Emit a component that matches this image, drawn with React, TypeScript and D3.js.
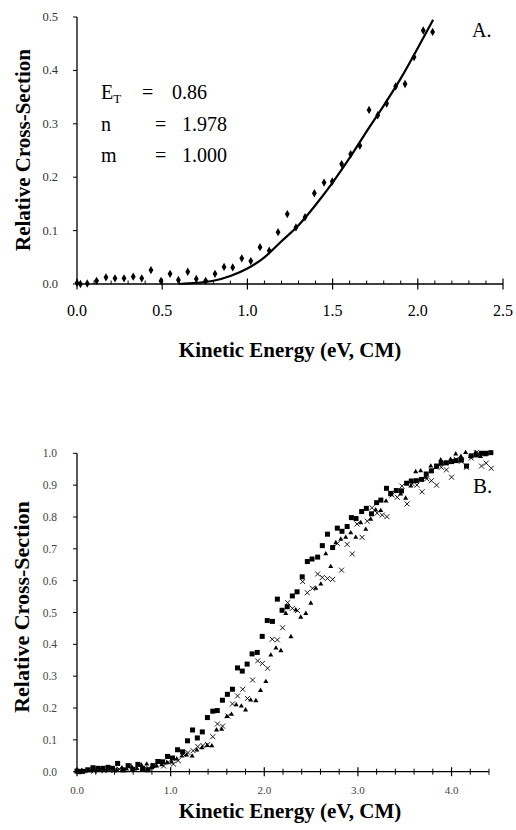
import React from 'react';
import * as d3 from 'd3';

// panel A: measured points (diamonds) and fitted curve
const pointsA: [number, number][] = [
  [0.0, 0.002], [0.02, 0.0], [0.06, 0.001], [0.115, 0.006], [0.17, 0.0125], [0.223, 0.0106],
  [0.276, 0.0106], [0.33, 0.0137], [0.38, 0.0106], [0.434, 0.026], [0.493, 0.0056], [0.546, 0.019],
  [0.595, 0.0075], [0.65, 0.023], [0.70, 0.0095], [0.755, 0.006], [0.81, 0.019], [0.863, 0.032],
  [0.914, 0.031], [0.967, 0.048], [1.02, 0.043], [1.074, 0.069], [1.128, 0.0625], [1.18, 0.097],
  [1.234, 0.131], [1.285, 0.106], [1.338, 0.125], [1.393, 0.17], [1.45, 0.19], [1.498, 0.192],
  [1.553, 0.2245], [1.606, 0.243], [1.66, 0.259], [1.714, 0.326], [1.765, 0.316], [1.817, 0.338],
  [1.87, 0.37], [1.925, 0.3746], [1.978, 0.425], [2.032, 0.4747], [2.087, 0.472],
];

const fitA: [number, number][] = [
  [0.6, 0.0], [0.7, 0.002], [0.8, 0.006], [0.9, 0.015], [1.0, 0.029], [1.1, 0.05], [1.2, 0.08],
  [1.3, 0.11], [1.4, 0.148], [1.5, 0.19], [1.6, 0.236], [1.7, 0.286], [1.8, 0.334], [1.9, 0.385],
  [2.0, 0.442], [2.09, 0.495],
];

const fitParams = [
  { name: 'E', sub: 'T', value: '0.86' },
  { name: 'n', sub: '', value: '1.978' },
  { name: 'm', sub: '', value: '1.000' },
];

// panel B: three data sets
const squaresB: [number, number][] = [
  ...pointsA,
  [2.14, 0.542], [2.19, 0.507], [2.245, 0.518], [2.3, 0.552], [2.35, 0.565], [2.405, 0.612],
  [2.46, 0.66], [2.51, 0.668], [2.57, 0.674], [2.62, 0.71], [2.675, 0.746], [2.73, 0.704],
  [2.78, 0.765], [2.83, 0.755], [2.885, 0.77], [2.93, 0.798], [2.98, 0.795], [3.04, 0.817],
  [3.09, 0.827], [3.145, 0.81], [3.2, 0.845], [3.245, 0.853], [3.305, 0.89], [3.35, 0.874],
  [3.41, 0.883], [3.465, 0.882], [3.52, 0.906], [3.57, 0.913], [3.625, 0.914], [3.68, 0.918],
  [3.73, 0.935], [3.785, 0.945], [3.84, 0.96], [3.89, 0.969], [3.945, 0.97], [4.0, 0.974],
  [4.05, 0.977], [4.105, 0.979], [4.16, 0.96], [4.21, 0.992], [4.265, 0.995], [4.32, 1.0],
  [4.37, 1.0], [4.42, 1.002],
];

const trianglesB: [number, number][] = [
  [0.0, 0.002], [0.053, 0.003], [0.106, 0.004], [0.16, 0.006], [0.21, 0.005], [0.265, 0.008],
  [0.32, 0.004], [0.37, 0.01], [0.425, 0.006], [0.48, 0.012], [0.53, 0.008], [0.585, 0.015],
  [0.64, 0.01], [0.69, 0.02], [0.745, 0.024], [0.8, 0.012], [0.85, 0.018], [0.905, 0.022],
  [0.96, 0.028], [1.01, 0.03], [1.065, 0.04], [1.12, 0.049], [1.17, 0.052], [1.23, 0.049],
  [1.28, 0.068], [1.335, 0.075], [1.39, 0.082], [1.44, 0.081], [1.49, 0.131], [1.545, 0.133],
  [1.6, 0.173], [1.65, 0.18], [1.7, 0.21], [1.755, 0.206], [1.8, 0.194], [1.855, 0.225],
  [1.91, 0.223], [1.96, 0.255], [2.017, 0.283], [2.07, 0.366], [2.125, 0.388], [2.177, 0.38],
  [2.23, 0.497], [2.285, 0.424], [2.337, 0.508], [2.39, 0.485], [2.444, 0.497], [2.497, 0.529],
  [2.55, 0.576], [2.604, 0.589], [2.657, 0.684], [2.71, 0.644], [2.764, 0.719], [2.817, 0.73],
  [2.87, 0.736], [2.923, 0.75], [2.977, 0.736], [3.03, 0.782], [3.084, 0.761], [3.137, 0.793],
  [3.19, 0.822], [3.244, 0.82], [3.3, 0.85], [3.35, 0.87], [3.4, 0.882], [3.457, 0.872],
  [3.51, 0.859], [3.565, 0.897], [3.617, 0.942], [3.67, 0.945], [3.725, 0.925], [3.778, 0.96],
  [3.83, 0.955], [3.885, 0.979], [3.94, 0.97], [3.99, 0.981], [4.045, 0.998], [4.1, 0.99],
  [4.15, 1.002], [4.2, 0.99], [4.258, 1.002], [4.31, 0.99], [4.36, 0.995],
];

const crossesB: [number, number][] = [
  [0.02, 0.001], [0.075, 0.003], [0.13, 0.004], [0.18, 0.002], [0.235, 0.005], [0.29, 0.003],
  [0.34, 0.006], [0.395, 0.004], [0.45, 0.008], [0.5, 0.006], [0.555, 0.018], [0.61, 0.01],
  [0.66, 0.021], [0.71, 0.008], [0.765, 0.011], [0.82, 0.02], [0.87, 0.031], [0.925, 0.018],
  [0.975, 0.03], [1.03, 0.024], [1.08, 0.035], [1.135, 0.055], [1.185, 0.06], [1.24, 0.066],
  [1.29, 0.079], [1.345, 0.082], [1.395, 0.085], [1.45, 0.11], [1.5, 0.15], [1.555, 0.143],
  [1.61, 0.175], [1.66, 0.213], [1.715, 0.238], [1.77, 0.259], [1.82, 0.23], [1.875, 0.288],
  [1.93, 0.348], [1.98, 0.34], [2.035, 0.325], [2.085, 0.416], [2.14, 0.414], [2.195, 0.452],
  [2.25, 0.531], [2.3, 0.513], [2.355, 0.506], [2.41, 0.597], [2.46, 0.562], [2.515, 0.576],
  [2.57, 0.621], [2.62, 0.61], [2.675, 0.607], [2.73, 0.604], [2.78, 0.717], [2.825, 0.633],
  [2.885, 0.714], [2.94, 0.684], [2.99, 0.778], [3.045, 0.736], [3.1, 0.787], [3.15, 0.829],
  [3.205, 0.812], [3.26, 0.806], [3.31, 0.801], [3.365, 0.869], [3.42, 0.862], [3.47, 0.897],
  [3.525, 0.841], [3.58, 0.904], [3.63, 0.9], [3.685, 0.879], [3.735, 0.92], [3.785, 0.914],
  [3.84, 0.9], [3.89, 0.956], [3.945, 0.948], [4.0, 0.925], [4.05, 0.981], [4.105, 0.975],
  [4.16, 0.956], [4.21, 0.985], [4.265, 1.002], [4.32, 0.96], [4.37, 0.969], [4.425, 0.953],
];

const ticksAx = [0, 0.5, 1.0, 1.5, 2.0, 2.5];
const ticksAy = [0, 0.1, 0.2, 0.3, 0.4, 0.5];
const ticksBx = [0, 1.0, 2.0, 3.0, 4.0];
const ticksBy = [0, 0.1, 0.2, 0.3, 0.4, 0.5, 0.6, 0.7, 0.8, 0.9, 1.0];

const FONT = 'Liberation Serif, Times New Roman, serif';

function PanelA() {
  const x = d3.scaleLinear().domain([0, 2.5]).range([77, 503]);
  const y = d3.scaleLinear().domain([0, 0.5]).range([284, 17]);
  const minor = d3.range(0, 2.5001, 0.1).filter(v => Math.abs(v * 2 - Math.round(v * 2)) > 1e-6);
  const line = d3.line<[number, number]>().x(d => x(d[0])).y(d => y(d[1])).curve(d3.curveMonotoneX);
  const diamond = d3.symbol().type(d3.symbolDiamond).size(20)();
  return (
    <g>
      <line x1={x(0)} x2={x(2.5)} y1={y(0)} y2={y(0)} stroke="#000" strokeWidth={1.3} />
      <line x1={x(0)} x2={x(0)} y1={y(0)} y2={y(0.5)} stroke="#000" strokeWidth={1.3} />
      {ticksAy.map(t => (
        <g key={t}>
          <line x1={x(0) - 4} x2={x(0)} y1={y(t)} y2={y(t)} stroke="#000" />
          <text x={58} y={y(t) + 4} textAnchor="end" fontSize={12.5} fill="#333">{t.toFixed(1)}</text>
        </g>
      ))}
      {minor.map(t => (
        <line key={t} x1={x(t)} x2={x(t)} y1={y(0) - 3.5} y2={y(0)} stroke="#000" />
      ))}
      {ticksAx.map(t => (
        <g key={t}>
          <line x1={x(t)} x2={x(t)} y1={y(0) - 5.5} y2={y(0) + 5.5} stroke="#000" strokeWidth={1.2} />
          <text x={x(t)} y={316} textAnchor="middle" fontSize={16}>{t.toFixed(1)}</text>
        </g>
      ))}
      <path d={line(fitA) || ''} fill="none" stroke="#000" strokeWidth={2.2} />
      {pointsA.map((d, i) => (
        <path key={i} d={diamond || ''} transform={`translate(${x(d[0])},${y(d[1])})`} fill="#000" />
      ))}
      {fitParams.map((p, i) => (
        <g key={p.name} fontSize={20}>
          <text x={101} y={99 + i * 31.5}>
            {p.name}
            {p.sub && <tspan fontSize={13} dy={4}>{p.sub}</tspan>}
          </text>
          <text x={i === 0 ? 142 : 155} y={99 + i * 31.5}>=</text>
          <text x={i === 0 ? 172 : 182} y={99 + i * 31.5}>{p.value}</text>
        </g>
      ))}
      <text x={472} y={37} fontSize={20}>A.</text>
      <text x={290} y={357} textAnchor="middle" fontSize={21} fontWeight="bold">Kinetic Energy (eV, CM)</text>
      <text transform="translate(30,150) rotate(-90)" textAnchor="middle" fontSize={21} fontWeight="bold">
        Relative Cross-Section
      </text>
    </g>
  );
}

function PanelB() {
  const x = d3.scaleLinear().domain([0, 4.4]).range([77, 489]);
  const y = d3.scaleLinear().domain([0, 1]).range([771.7, 453.3]);
  const minor = d3.range(0, 4.4001, 0.2).filter(v => Math.abs(v - Math.round(v)) > 1e-6);
  const tri = d3.symbol().type(d3.symbolTriangle).size(11)();
  return (
    <g>
      <line x1={x(0)} x2={x(4.4)} y1={y(0)} y2={y(0)} stroke="#000" strokeWidth={1.3} />
      <line x1={x(0)} x2={x(0)} y1={y(0)} y2={y(1)} stroke="#000" strokeWidth={1.3} />
      {ticksBy.map(t => (
        <g key={t}>
          <line x1={x(0) - 4} x2={x(0)} y1={y(t)} y2={y(t)} stroke="#000" />
          <text x={57} y={y(t) + 4} textAnchor="end" fontSize={11.5} fill="#444">{t.toFixed(1)}</text>
        </g>
      ))}
      {minor.map(t => (
        <line key={t} x1={x(t)} x2={x(t)} y1={y(0) - 3} y2={y(0) + 3} stroke="#000" />
      ))}
      {ticksBx.map(t => (
        <g key={t}>
          <line x1={x(t)} x2={x(t)} y1={y(0) - 4.5} y2={y(0) + 4.5} stroke="#000" strokeWidth={1.2} />
          <text x={x(t)} y={794} textAnchor="middle" fontSize={11} fill="#444">{t.toFixed(1)}</text>
        </g>
      ))}
      {squaresB.map((d, i) => (
        <rect key={i} x={x(d[0]) - 2.5} y={y(d[1]) - 2.5} width={5} height={5} fill="#000" />
      ))}
      {trianglesB.map((d, i) => (
        <path key={i} d={tri || ''} transform={`translate(${x(d[0])},${y(d[1])})`} fill="#000" />
      ))}
      {crossesB.map((d, i) => {
        const cx = x(d[0]);
        const cy = y(d[1]);
        return (
          <path key={i} d={`M${cx - 2.5},${cy - 2.5}L${cx + 2.5},${cy + 2.5}M${cx - 2.5},${cy + 2.5}L${cx + 2.5},${cy - 2.5}`}
            stroke="#000" strokeWidth={0.9} fill="none" />
        );
      })}
      <text x={473} y={493} fontSize={21}>B.</text>
      <text x={290} y={818} textAnchor="middle" fontSize={21} fontWeight="bold">Kinetic Energy (eV, CM)</text>
      <text transform="translate(29,607) rotate(-90)" textAnchor="middle" fontSize={22} fontWeight="bold">
        Relative Cross-Section
      </text>
    </g>
  );
}

export default function App() {
  return (
    <svg width={516} height={830}
      style={{ position: 'absolute', left: 0, top: 0, background: '#fff', fontFamily: FONT }}>
      <PanelA />
      <PanelB />
    </svg>
  );
}
